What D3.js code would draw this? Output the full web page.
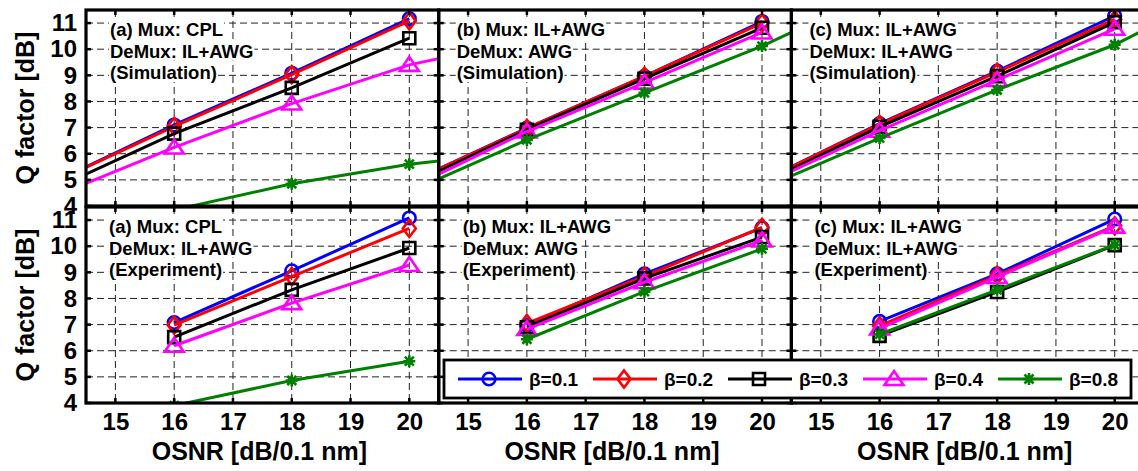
<!DOCTYPE html>
<html><head><meta charset="utf-8">
<script src="https://cdn.jsdelivr.net/npm/d3@7"></script>
<style>
body{margin:0;background:#fff}
svg{display:block}
text{font-family:"Liberation Sans",Arial,sans-serif;font-weight:bold;fill:#000}
</style>
</head><body>
<script>
// ---------- data ----------
const betas = ["β=0.1", "β=0.2", "β=0.3", "β=0.4", "β=0.8"];
const colors = ["#0000ff", "#ff0000", "#000000", "#ff00ff", "#008000"];
const markers = ["circle", "diamond", "square", "triangle", "star"];
const osnrSim = [14.5, 16, 18, 20, 20.5];   // simulated curve sample points
const osnrExp = [16, 18, 20];                // measured points
const markerOsnr = [16, 18, 20];
const xTicks = [15, 16, 17, 18, 19, 20];
const yTicks = [4, 5, 6, 7, 8, 9, 10, 11];

// Simulation (rows: beta 0.1, 0.2, 0.3, 0.4, 0.8; columns: osnrSim)
const simA = [
  [5.50, 7.10, 9.08, 11.17, null],
  [5.48, 7.05, 9.03, 11.08, null],
  [5.22, 6.77, 8.52, 10.42, null],
  [4.87, 6.24, 7.92, 9.40, 9.64],
  [3.10, 3.85, 4.85, 5.60, 5.72]
];
const simB = [
  [5.42, 6.98, 8.96, 11.06, null],
  [5.41, 6.97, 8.97, 11.00, null],
  [5.33, 6.92, 8.87, 10.82, null],
  [5.22, 6.85, 8.72, 10.64, null],
  [5.04, 6.53, 8.33, 10.12, 10.64]
];
const simC = [
  [5.50, 7.15, 9.16, 11.28, null],
  [5.49, 7.13, 9.12, 11.14, null],
  [5.40, 7.03, 8.97, 11.03, null],
  [5.33, 6.88, 8.82, 10.78, null],
  [5.15, 6.60, 8.44, 10.17, 10.74]
];
// Experiment (columns: osnrExp)
const expA = [
  [7.08, 9.06, 11.08],
  [6.98, 8.84, 10.68],
  [6.52, 8.33, 9.93],
  [6.19, 7.82, 9.28],
  [3.90, 4.86, 5.60]
];
const expB = [
  [6.97, 8.94, 10.70],
  [7.05, 8.85, 10.72],
  [6.90, 8.77, 10.35],
  [6.83, 8.62, 10.22],
  [6.44, 8.26, 9.90]
];
const expC = [
  [7.12, 8.94, 11.04],
  [6.95, 8.88, 10.78],
  [6.57, 8.25, 10.04],
  [6.85, 8.82, 10.75],
  [6.63, 8.33, 10.05]
];
const labelsTop = [
  ["(a) Mux: CPL", "DeMux: IL+AWG", "(Simulation)"],
  ["(b) Mux: IL+AWG", "DeMux: AWG", "(Simulation)"],
  ["(c) Mux: IL+AWG", "DeMux: IL+AWG", "(Simulation)"]
];
const labelsBottom = [
  ["(a) Mux: CPL", "DeMux: IL+AWG", "(Experiment)"],
  ["(b) Mux: IL+AWG", "DeMux: AWG", "(Experiment)"],
  ["(c) Mux: IL+AWG", "DeMux: IL+AWG", "(Experiment)"]
];
const xTitle = "OSNR [dB/0.1 nm]";
const yTitle = "Q factor [dB]";

// ---------- layout ----------
const W = 1138, H = 471;
const colLeft = [86, 438.7, 791.4], colW = 352.7;
const rowTop = [10, 207], rowH = 196;
const textOffsets = [[24, 18, 18], [23, 24, 23]];
const FONT = '"Liberation Sans",Arial,sans-serif';

const svg = d3.select("body").append("svg").attr("width", W).attr("height", H);
const defs = svg.append("defs");

function markerPath(type) {
  switch (type) {
    case "circle": return "M6.3,0A6.3,6.3 0 1,1 -6.3,0A6.3,6.3 0 1,1 6.3,0Z";
    case "diamond": return "M0,-8.5L6.5,0L0,8.5L-6.5,0Z";
    case "square": return "M-6,-6H6V6H-6Z";
    case "triangle": return "M0,-8L9.5,6L-9.5,6Z";
    default: return "M-6,0H6M0,-6V6M-4.5,-4.5L4.5,4.5M-4.5,4.5L4.5,-4.5";
  }
}
function drawMarker(g, type, color) {
  if (type === "star") {
    g.append("circle").attr("r", 3.5).attr("fill", color);
  }
  g.append("path").attr("d", markerPath(type)).attr("stroke", color)
    .attr("stroke-width", 2.6).attr("fill", "none");
}

const sims = [simA, simB, simC];
const exps = [expA, expB, expC];

function drawPanel(row, col) {
  const x0 = colLeft[col], y0 = rowTop[row];
  const x = d3.scaleLinear().domain([14.5, 20.5]).range([x0, x0 + colW]);
  const y = d3.scaleLinear().domain([4, 11.5]).range([y0 + rowH, y0]);
  const id = `clip${row}${col}`;
  defs.append("clipPath").attr("id", id).append("rect")
    .attr("x", x0).attr("y", y0).attr("width", colW).attr("height", rowH);
  const g = svg.append("g");

  // grid
  const grid = g.append("g").attr("stroke", "#222").attr("stroke-width", 1)
    .attr("stroke-dasharray", "7,4");
  xTicks.forEach(t => grid.append("line").attr("x1", x(t)).attr("x2", x(t))
    .attr("y1", y0).attr("y2", y0 + rowH));
  yTicks.filter(t => t > 4).forEach(t => grid.append("line").attr("y1", y(t)).attr("y2", y(t))
    .attr("x1", x0).attr("x2", x0 + colW));

  // annotation text with white background
  const labels = row === 0 ? labelsTop[col] : labelsBottom[col];
  const tg = g.append("g");
  labels.forEach((s, i) => {
    const t = tg.append("text").attr("x", x0 + textOffsets[row][col])
      .attr("y", y0 + 26 + i * 21.5).attr("font-size", 18.5).text(s);
    const bb = t.node().getBBox();
    tg.insert("rect", "text").attr("x", bb.x - 1).attr("y", bb.y + 1)
      .attr("width", bb.width + 2).attr("height", bb.height - 2).attr("fill", "#fff");
  });

  // data
  const dg = g.append("g").attr("clip-path", `url(#${id})`);
  const line = d3.line().defined(d => d[1] != null).x(d => x(d[0])).y(d => y(d[1]));
  const data = row === 0 ? sims[col] : exps[col];
  const xs = row === 0 ? osnrSim : osnrExp;
  data.forEach((vals, si) => {
    const pts = xs.map((v, k) => [v, vals[k]]);
    dg.append("path").attr("d", line(pts)).attr("fill", "none")
      .attr("stroke", colors[si]).attr("stroke-width", 3);
    pts.filter(p => p[1] != null && markerOsnr.includes(p[0])).forEach(p => {
      drawMarker(dg.append("g").attr("transform", `translate(${x(p[0])},${y(p[1])})`),
        markers[si], colors[si]);
    });
  });

  // ticks (inside)
  const tk = g.append("g").attr("stroke", "#000").attr("stroke-width", 2.5);
  xTicks.forEach(t => {
    tk.append("line").attr("x1", x(t)).attr("x2", x(t)).attr("y1", y0 + rowH).attr("y2", y0 + rowH - 5);
    tk.append("line").attr("x1", x(t)).attr("x2", x(t)).attr("y1", y0).attr("y2", y0 + 5);
  });
  yTicks.forEach(t => {
    tk.append("line").attr("y1", y(t)).attr("y2", y(t)).attr("x1", x0).attr("x2", x0 + 5);
    tk.append("line").attr("y1", y(t)).attr("y2", y(t)).attr("x1", x0 + colW).attr("x2", x0 + colW - 5);
  });
  // frame
  g.append("rect").attr("x", x0).attr("y", y0).attr("width", colW).attr("height", rowH)
    .attr("fill", "none").attr("stroke", "#000").attr("stroke-width", 3.2);

  // tick labels
  if (col === 0) {
    const ax = d3.axisLeft(y).tickValues(yTicks).tickSize(0).tickPadding(9).tickFormat(d3.format("d"));
    const a = svg.append("g").attr("transform", `translate(${x0},0)`).call(ax);
    a.select(".domain").remove();
    a.selectAll("text").attr("font-size", 24).attr("font-family", null)
      .style("font-family", FONT).attr("font-weight", "bold");
    svg.append("text").attr("transform", `translate(34,${y0 + rowH / 2}) rotate(-90)`)
      .attr("text-anchor", "middle").attr("font-size", 25).text(yTitle);
  }
  if (row === 1) {
    const ax = d3.axisBottom(x).tickValues(xTicks).tickSize(0).tickPadding(10).tickFormat(d3.format("d"));
    const a = svg.append("g").attr("transform", `translate(0,${y0 + rowH})`).call(ax);
    a.select(".domain").remove();
    a.selectAll("text").attr("font-size", 24).attr("font-family", null)
      .style("font-family", FONT).attr("font-weight", "bold");
    svg.append("text").attr("x", x0 + colW / 2 - 3).attr("y", 460)
      .attr("text-anchor", "middle").attr("font-size", 25).text(xTitle);
  }
}

for (let r = 0; r < 2; r++) for (let c = 0; c < 3; c++) drawPanel(r, c);

// legend
const lg = svg.append("g");
lg.append("rect").attr("x", 444).attr("y", 360).attr("width", 687).attr("height", 38)
  .attr("fill", "#fff").attr("stroke", "#000").attr("stroke-width", 2.8);
const legX = d3.scaleLinear().domain([0, 4]).range([458, 998]);
betas.forEach((b, i) => {
  const lx = legX(i), ly = 379;
  lg.append("line").attr("x1", lx).attr("x2", lx + 64).attr("y1", ly).attr("y2", ly)
    .attr("stroke", colors[i]).attr("stroke-width", 3);
  drawMarker(lg.append("g").attr("transform", `translate(${lx + 31},${ly})`), markers[i], colors[i]);
  lg.append("text").attr("x", lx + 71).attr("y", 386).attr("font-size", 19).text(b);
});
</script>
</body></html>
